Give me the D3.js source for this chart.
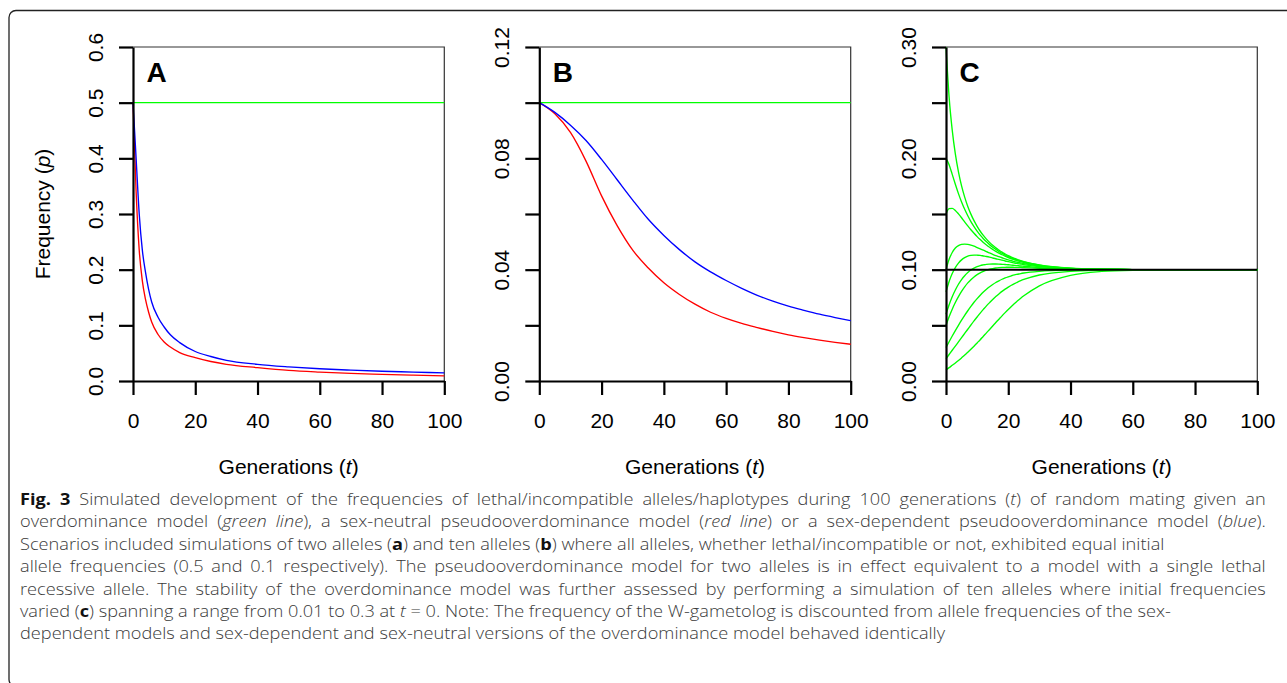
<!DOCTYPE html>
<html><head><meta charset="utf-8">
<script src="https://cdn.jsdelivr.net/npm/d3@7"></script>
<style>body{margin:0;background:#fff;} svg{display:block}</style>
</head><body><svg id="c" width="1287" height="683"></svg>
<script>
// ---------------- DATA ----------------
const xTicks = [0, 20, 40, 60, 80, 100];

// Panel A: two alleles
const tA = [0,1,2,3,4,5,6,8,10,12,15,20,25,30,40,50,60,70,80,90,100];
const redA = [0.5,0.34,0.235,0.18,0.147,0.124,0.106,0.084,0.07,0.061,0.051,0.042,0.035,0.030,0.024,0.019,0.016,0.0137,0.012,0.0105,0.0093];
const blueA = [0.5,0.40,0.30,0.235,0.196,0.165,0.142,0.115,0.097,0.083,0.069,0.053,0.044,0.037,0.030,0.0255,0.022,0.0195,0.0175,0.016,0.0145];
const tGreen = [0, 100];
const greenA = [0.5, 0.5];
const yTicksA = [0,0.1,0.2,0.3,0.4,0.5,0.6];
const yLabelsA = ["0.0","0.1","0.2","0.3","0.4","0.5","0.6"];

// Panel B: ten alleles
const tB = [0,5,10,15,20,25,30,35,40,45,50,55,60,65,70,75,80,85,90,95,100];
const redB = [0.1,0.096,0.0893,0.079,0.0665,0.0558,0.047,0.0406,0.0353,0.0311,0.0276,0.0247,0.0225,0.0207,0.0192,0.0178,0.0166,0.0156,0.0147,0.0139,0.0132];
const blueB = [0.1,0.0965,0.0919,0.0864,0.0796,0.0723,0.065,0.0581,0.0523,0.0472,0.0428,0.0392,0.0361,0.0333,0.0308,0.0287,0.0269,0.0254,0.024,0.0228,0.0217];
const greenB = [0.1, 0.1];
const yTicksB = [0,0.02,0.04,0.06,0.08,0.10,0.12];
const yLabelsB = ["0.00","","0.04","","0.08","","0.12"];

// Panel C: ten alleles, varied initial frequencies (overdominance)
const tC = [0,1,2,3,4,5,6,7,8,9,10,11,12,13,14,15,16,17,18,19,20,21,22,23,24,25,30,40,50,60,80,100];
const c30 = [0.3,0.255,0.2253,0.2040,0.1879,0.1753,0.1652,0.1568,0.1499,0.1440,0.1389,0.1345,0.1308,0.1274,0.1245,0.1219,0.1196,0.1176,0.1157,0.1141,0.1126,0.1113,0.1101,0.1091,0.1081,0.1073,0.1042,0.1013,0.1004,0.1001,0.1,0.1];
const c20 = [0.2,0.1943,0.1856,0.1767,0.1683,0.1608,0.1542,0.1484,0.1432,0.1387,0.1346,0.1310,0.1278,0.1250,0.1225,0.1202,0.1182,0.1163,0.1147,0.1132,0.1118,0.1106,0.1095,0.1086,0.1077,0.1069,0.1040,0.1012,0.1004,0.1001,0.1,0.1];
const c15 = [0.15,0.1548,0.1551,0.1532,0.1501,0.1466,0.1429,0.1393,0.1359,0.1327,0.1297,0.1270,0.1245,0.1222,0.1201,0.1182,0.1164,0.1149,0.1134,0.1121,0.1109,0.1098,0.1089,0.1080,0.1072,0.1064,0.1037,0.1012,0.1004,0.1001,0.1,0.1];
const c10 = [0.1,0.1093,0.1154,0.1194,0.1216,0.1227,0.1230,0.1227,0.1220,0.1211,0.1199,0.1187,0.1175,0.1162,0.1150,0.1138,0.1127,0.1117,0.1107,0.1097,0.1088,0.1080,0.1073,0.1066,0.1060,0.1054,0.1032,0.1011,0.1003,0.1001,0.1,0.1];
const c08 = [0.08,0.0894,0.0965,0.1019,0.1059,0.1088,0.1108,0.1121,0.1128,0.1131,0.1130,0.1128,0.1123,0.1118,0.1112,0.1105,0.1098,0.1092,0.1085,0.1078,0.1072,0.1066,0.1060,0.1055,0.1050,0.1045,0.1027,0.1009,0.1003,0.1001,0.1,0.1];
const c06 = [0.06,0.0685,0.0757,0.0817,0.0869,0.0911,0.0946,0.0974,0.0997,0.1014,0.1027,0.1037,0.1043,0.1048,0.1050,0.1051,0.1051,0.1050,0.1048,0.1046,0.1044,0.1041,0.1039,0.1036,0.1033,0.1031,0.1019,0.1007,0.1002,0.1001,0.1,0.1];
const c05 = [0.05,0.0577,0.0645,0.0705,0.0758,0.0805,0.0846,0.0881,0.0910,0.0935,0.0955,0.0972,0.0985,0.0996,0.1004,0.1010,0.1015,0.1018,0.1020,0.1021,0.1022,0.1022,0.1021,0.1021,0.1020,0.1019,0.1013,0.1005,0.1002,0.1,0.1,0.1];
const c03 = [0.03,0.0353,0.0404,0.0453,0.0500,0.0546,0.0590,0.0631,0.0670,0.0707,0.0740,0.0771,0.0799,0.0824,0.0847,0.0867,0.0885,0.0900,0.0914,0.0926,0.0936,0.0945,0.0953,0.0959,0.0965,0.0970,0.0985,0.0996,0.0999,0.1,0.1,0.1];
const c02 = [0.02,0.0238,0.0276,0.0313,0.0351,0.0389,0.0427,0.0465,0.0503,0.0540,0.0575,0.0610,0.0643,0.0675,0.0704,0.0732,0.0758,0.0782,0.0805,0.0825,0.0843,0.0860,0.0875,0.0889,0.0901,0.0912,0.0952,0.0985,0.0995,0.0999,0.1,0.1];
const c01 = [0.01,0.0120,0.0141,0.0162,0.0184,0.0208,0.0233,0.0258,0.0285,0.0313,0.0342,0.0371,0.0402,0.0432,0.0463,0.0494,0.0525,0.0555,0.0585,0.0614,0.0642,0.0669,0.0695,0.0720,0.0743,0.0765,0.0855,0.0949,0.0984,0.0995,0.1,0.1];
const equilibriumC = 0.1;
const yTicksC = [0,0.05,0.10,0.15,0.20,0.25,0.30];
const yLabelsC = ["0.00","","0.10","","0.20","","0.30"];

const panelLetters = ["A","B","C"];
const xTitle = "Generations";
const yTitle = "Frequency";

// Caption lines (segments: [text, style])
const captionLines = [
  [["Fig. 3","b"],[" Simulated development of the frequencies of lethal/incompatible alleles/haplotypes during 100 generations ("],["t","i"],[") of random mating given an"]],
  [["overdominance model ("],["green line","i"],["), a sex-neutral pseudooverdominance model ("],["red line","i"],[") or a sex-dependent pseudooverdominance model ("],["blue","i"],[")."]],
  [["Scenarios included simulations of two alleles ("],["a","b"],[") and ten alleles ("],["b","b"],[") where all alleles, whether lethal/incompatible or not, exhibited equal initial"]],
  [["allele frequencies (0.5 and 0.1 respectively). The pseudooverdominance model for two alleles is in effect equivalent to a model with a single lethal"]],
  [["recessive allele. The stability of the overdominance model was further assessed by performing a simulation of ten alleles where initial frequencies"]],
  [["varied ("],["c","b"],[") spanning a range from 0.01 to 0.3 at "],["t","i"],[" = 0. Note: The frequency of the W-gametolog is discounted from allele frequencies of the sex-"]],
  [["dependent models and sex-dependent and sex-neutral versions of the overdominance model behaved identically"]]
];
const captionJustified = [true,true,false,true,true,false,false];

// ---------------- LAYOUT ----------------
const svg = d3.select("#c");
const FONT = "'Liberation Sans', Arial, Helvetica, sans-serif";
const plotTop = 47, plotBottom = 381;
const panels = [
  {x0:133, x1:444.3, yMax:0.6, ticks:yTicksA, labels:yLabelsA, ylab:true,
   series:[{t:tGreen,v:greenA,c:"#00ff00"},{t:tA,v:redA,c:"#ff0000"},{t:tA,v:blueA,c:"#0000ff"}]},
  {x0:539.3, x1:850.7, yMax:0.12, ticks:yTicksB, labels:yLabelsB,
   series:[{t:tGreen,v:greenB,c:"#00ff00"},{t:tB,v:redB,c:"#ff0000"},{t:tB,v:blueB,c:"#0000ff"}]},
  {x0:946, x1:1257.3, yMax:0.30, ticks:yTicksC, labels:yLabelsC, hline:equilibriumC,
   series:[c30,c20,c15,c10,c08,c06,c05,c03,c02,c01].map(v=>({t:tC,v:v,c:"#00ff00"}))}
];

// outer frame
svg.append("rect").attr("x",9).attr("y",10.5).attr("width",1300).attr("height",676)
  .attr("rx",7).attr("fill","none").attr("stroke","#222").attr("stroke-width",1.3);

panels.forEach((p,i)=>{
  const x = d3.scaleLinear().domain([0,100]).range([p.x0,p.x1]);
  const y = d3.scaleLinear().domain([0,p.yMax]).range([plotBottom,plotTop]);
  const g = svg.append("g");

  g.append("path").attr("d",`M${p.x0},${plotTop}H${p.x1}V${plotBottom}`)
    .attr("fill","none").attr("stroke","#333").attr("stroke-width",1.2);

  const line = d3.line().x(d=>x(d[0])).y(d=>y(d[1])).curve(d3.curveMonotoneX);
  p.series.forEach(s=>{
    g.append("path").datum(s.t.map((t,k)=>[t,s.v[k]]))
      .attr("d",line).attr("fill","none").attr("stroke",s.c).attr("stroke-width",1.35);
  });
  if (p.hline !== undefined) {
    g.append("line").attr("x1",p.x0).attr("x2",p.x1).attr("y1",y(p.hline)).attr("y2",y(p.hline))
      .attr("stroke","#000").attr("stroke-width",2);
  }

  const gx = g.append("g").attr("transform",`translate(0,${plotBottom})`)
    .call(d3.axisBottom(x).tickValues(xTicks).tickSize(14).tickSizeOuter(0).tickFormat(d3.format("d")));
  gx.select(".domain").attr("stroke","#000").attr("stroke-width",2.2);
  gx.selectAll(".tick line").attr("stroke","#000").attr("stroke-width",2.2);
  gx.selectAll("text").attr("y",47).attr("dy",0).attr("font-family",FONT).attr("font-size",21).attr("fill","#000");

  const gy = g.append("g").attr("transform",`translate(${p.x0},0)`)
    .call(d3.axisLeft(y).tickValues(p.ticks).tickSize(14).tickSizeOuter(0).tickFormat((d,k)=>p.labels[k]));
  gy.select(".domain").attr("stroke","#000").attr("stroke-width",2.2);
  gy.selectAll(".tick line").attr("stroke","#000").attr("stroke-width",2.2);
  gy.selectAll("text").attr("transform","rotate(-90)").attr("x",0).attr("y",-30.5).attr("dy",0)
    .attr("text-anchor","middle").attr("font-family",FONT).attr("font-size",21).attr("fill","#000");

  g.append("text").attr("x",p.x0+13.5).attr("y",82).text(panelLetters[i])
    .attr("font-family",FONT).attr("font-weight","bold").attr("font-size",28).attr("fill","#000");

  const xt = g.append("text").attr("x",(p.x0+p.x1)/2).attr("y",474).attr("text-anchor","middle")
    .attr("font-family",FONT).attr("font-size",21).attr("fill","#000");
  xt.append("tspan").text(xTitle+" (");
  xt.append("tspan").attr("font-style","italic").text("t");
  xt.append("tspan").text(")");

  if (p.ylab) {
    const yt = g.append("text").attr("transform",`translate(50,${(plotTop+plotBottom)/2}) rotate(-90)`)
      .attr("text-anchor","middle").attr("font-family",FONT).attr("font-size",21).attr("fill","#000");
    yt.append("tspan").text(yTitle+" (");
    yt.append("tspan").attr("font-style","italic").text("p");
    yt.append("tspan").text(")");
  }
});

// caption: compromise horizontal scale; justified lines filled with extra word spacing
const capLeft = 20, capRightEdge = 1266, capBase0 = 505, capStep = 22.4;
const raggedEnds = [null,null,1100,null,null,1142,860];
const capNodes = captionLines.map((segs,k)=>{
  const t = svg.append("text").attr("x",0).attr("y",0)
    .attr("font-family","'Open Sans', 'Noto Sans', sans-serif").attr("font-weight",300)
    .attr("font-size",16.5).attr("fill","#3a3a3a");
  segs.forEach(s=>{
    const ts = t.append("tspan").text(s[0]);
    if (s[1]==="b") ts.attr("font-weight",700).attr("fill","#111");
    if (s[1]==="i") ts.attr("font-style","italic");
  });
  return t;
});
const widths = capNodes.map(t=>t.node().getComputedTextLength());
const sRag = d3.mean(widths.map((w,k)=>raggedEnds[k]? (raggedEnds[k]-capLeft)/w : null).filter(v=>v!==null));
const sJus = d3.mean(widths.map((w,k)=>captionJustified[k]? (capRightEdge-capLeft)/w : null).filter(v=>v!==null));
const sBase = (sRag + sJus) / 2;
capNodes.forEach((t,k)=>{
  if (captionJustified[k]) {
    const nSpaces = captionLines[k].map(s=>s[0]).join("").split(" ").length-1;
    const extra = (capRightEdge-capLeft)/sBase - widths[k];
    t.attr("word-spacing", extra/nSpaces);
  }
  t.attr("transform",`translate(${capLeft},${capBase0+k*capStep}) scale(${sBase},1)`);
});
</script></body></html>
